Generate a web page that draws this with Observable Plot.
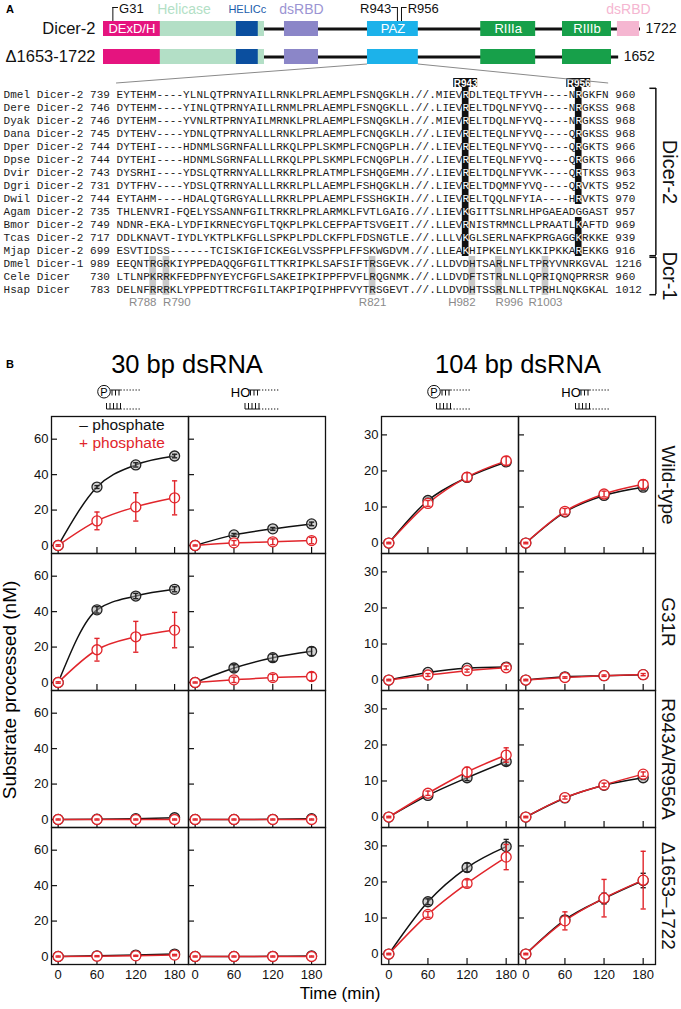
<!DOCTYPE html>
<html><head><meta charset="utf-8">
<script src="https://cdn.jsdelivr.net/npm/d3@7"></script>
<script src="https://cdn.jsdelivr.net/npm/@observablehq/plot@0.6"></script>
<style>
html,body{margin:0;padding:0;background:#fff;}
#root{position:relative;width:681px;height:1009px;overflow:hidden;font-family:"Liberation Sans",Arial,Helvetica,sans-serif;color:#111;}
</style></head><body><div id="root"></div>
<script>
// ---------------- Panel A data ----------------
const proteins = ["Dicer-2", "Δ1653-1722"];
const proteinLength = [1722, 1652];
const domainNames = ["Helicase", "DExD/H", "HELICc", "dsRBD", "PAZ", "RIIIa", "RIIIb", "dsRBD"];
const domainStart = [1, 1, 427, 581, 847, 1210, 1472, 1648];
const domainEnd = [517, 183, 497, 690, 1010, 1386, 1629, 1719];
const domainLabelInside = [false, true, false, false, true, true, true, false];
const siteResidues = [31, 943, 956];
const siteLabels = ["G31", "R943", "R956"];

const alignNames = ["Dmel Dicer-2","Dere Dicer-2","Dyak Dicer-2","Dana Dicer-2","Dper Dicer-2","Dpse Dicer-2","Dvir Dicer-2","Dgri Dicer-2","Dwil Dicer-2","Agam Dicer-2","Bmor Dicer-2","Tcas Dicer-2","Mjap Dicer-2","Dmel Dicer-1","Cele Dicer","Hsap Dicer"];
const alignStart = [739,746,746,745,744,744,743,731,744,735,749,717,699,989,730,783];
const alignSeqA = [
 "EYTEHM----YLNLQTPRNYAILLRNKLPRLAEMPLFSNQGKLH",
 "DYTEHM----YINLQTPRNYAILLRNMLPRLAEMPLFSNQGKLL",
 "DYTEHM----YVNLRTPRNYAILMRNKLPRLAEMPLFSNQGKLH",
 "DYTEHV----YDNLQTPRNYALLLRNKLPRLAEMPLFCNQGKLH",
 "DYTEHI----HDNMLSGRNFALLLRKQLPPLSKMPLFCNQGPLH",
 "DYTEHI----HDNMLSGRNFALLLRKQLPPLSKMPLFCNQGPLH",
 "DYSRHI----YDSLQTRRNYALLLRKRLPRLATMPLFSHQGEMH",
 "DYTFHV----YDSLQTRRNYALLLRKRLPLLAEMPLFSHQGKLH",
 "EYTAHM----HDALQTGRGYALLLRKRLPPLAEMPLFSSHGKIH",
 "THLENVRI-FQELYSSANNFGILTRKRLPRLARMKLFVTLGAIG",
 "NDNR-EKA-LYDFIKRNECYGFLTQKPLPKLCEFPAFTSVGEIT",
 "DDLKNAVT-IYDLYKTPLKFGLLSPKPLPDLCKFPLFDSNGTLE",
 "ESVTIDSS------TCISKIGFICKEGLVSSPFPLFFSKWGDVM",
 "EEQNTRGRKIYPPEDAQQGFGILTTKRIPKLSAFSIFTRSGEVK",
 "LTLNPKRRKFEDPFNYEYCFGFLSAKEIPKIPPFPVFLRQGNMK",
 "DELNFRRRKLYPPEDTTRCFGILTAKPIPQIPHPFVYTRSGEVT"];
const alignSeqB = [
 "MIEVRDLTEQLTFYVH----NRGKFN",
 "LIEVRELTDQLNFYVQ----NRGKSS",
 "MIEVRELTDQLNFYVQ----NRGKSS",
 "LIEVRELTEQLNFYVQ----QRGKSS",
 "LIEVRELTEQLNFYVQ----QRGKTS",
 "LIEVRELTEQLNFYVQ----QRGKTS",
 "LIEVRELTDQLNFYVK----QRTKSS",
 "LIEVRELTDQMNFYVQ----QRVKTS",
 "LIEVRELTQQLNFYIA----HRVKTS",
 "LIEVKGITTSLNRLHPGAEADGGAST",
 "LLEVRNISTRMNCLLPRAATLKAFTD",
 "LLLVKGLSERLNAFKPRGAGGKRKKE",
 "LLEAKHIPKELNYLKKIPKKAREKKG",
 "LLDVDHTSARLNFLTPRYVNRKGVAL",
 "LLDVDFTSTRLNLLQPRIQNQPRRSR",
 "LLDVDHTSSRLNLLTPRHLNQKGKAL"];
const alignEnd = [960,968,968,968,966,966,963,952,970,957,969,939,916,1216,960,1012];
const markedLabels = ["R943", "R956"];
const markedCols = [69, 86];
const markedRows = [[0,1,2,3,4,5,6,7,8,9,10,11,12], [0,1,2,3,4,5,6,7,8,10,11,12]];
const conservedLabels = ["R788", "R790", "R821", "H982", "R996", "R1003"];
const conservedCols = [22, 24, 55, 70, 74, 81];
const conservedRows = [13, 14, 15];
const groupNames = ["Dicer-2", "Dcr-1"];
const groupFirstRow = [0, 13];
const groupLastRow = [12, 15];
const groupMidRow = [6, 14];

// ---------------- Panel B data ----------------
const times = [0, 60, 120, 180];
const genotypes = ["Wild-type", "G31R", "R943A/R956A", "Δ1653–1722"];
const substrateEnds = ["P", "HO"];
// rows follow genotypes, columns follow times (nM)
const bp30MinusP     = [[0, 33, 45.5, 50.5], [0, 41, 48.8, 52.6], [0, 0.2, 0.5, 1.0], [0, 0.4, 0.8, 1.4]];
const bp30MinusPErr  = [[0.3, 0.8, 1.2, 1.0], [0.3, 1.8, 1.5, 1.4], [0.3, 0.3, 0.3, 0.4], [0.3, 0.3, 0.4, 0.5]];
const bp30PlusP      = [[0, 13.9, 21.8, 26.9], [0, 18.5, 25.8, 29.6], [0, 0, 0, 0], [0, 0.2, 0.4, 0.8]];
const bp30PlusPErr   = [[0.4, 5, 8, 9.6], [0.4, 6.4, 8.7, 10], [0.3, 0.3, 0.3, 0.3], [0.3, 0.3, 0.3, 0.4]];
const bp30MinusHO    = [[0, 6.0, 9.4, 12.2], [0, 8.2, 14, 17.6], [0, 0, 0.1, 0.5], [0, 0, 0.1, 0.3]];
const bp30MinusHOErr = [[0.3, 0.8, 0.8, 1.0], [0.3, 1.8, 2.0, 2.4], [0.3, 0.3, 0.3, 0.3], [0.3, 0.3, 0.3, 0.3]];
const bp30PlusHO     = [[0, 1.5, 2.1, 2.8], [0, 1.5, 2.8, 3.4], [0, 0, 0, 0], [0, 0, 0, 0]];
const bp30PlusHOErr  = [[0.3, 1.3, 1.6, 1.8], [0.3, 1.5, 1.8, 2.3], [0.3, 0.3, 0.3, 0.3], [0.3, 0.3, 0.3, 0.3]];

const bp104MinusP     = [[0, 11.8, 18.2, 22.5], [0, 2.1, 3.3, 3.6], [0, 6.0, 10.9, 15.4], [0, 14.5, 24.0, 29.8]];
const bp104MinusPErr  = [[0.2, 0.6, 0.8, 0.8], [0.2, 0.3, 0.4, 0.4], [0.2, 0.5, 0.8, 1.0], [0.2, 0.8, 1.2, 2.0]];
const bp104PlusP      = [[0, 11.0, 18.3, 22.8], [0, 1.4, 2.6, 3.4], [0, 6.6, 12.5, 17.2], [0, 11.0, 19.6, 26.9]];
const bp104PlusPErr   = [[0.2, 0.8, 1.2, 1.2], [0.2, 0.4, 0.4, 0.5], [0.2, 0.6, 1.3, 2.0], [0.2, 0.8, 1.0, 3.5]];
const bp104MinusHO    = [[0, 8.6, 13.2, 15.5], [0, 0.9, 1.2, 1.5], [0, 5.3, 8.8, 10.9], [0, 9.5, 15.4, 20.4]];
const bp104MinusHOErr = [[0.2, 0.5, 0.6, 0.8], [0.2, 0.2, 0.2, 0.3], [0.2, 0.3, 0.4, 0.5], [0.2, 1.0, 1.5, 2.0]];
const bp104PlusHO     = [[0, 8.8, 13.6, 16.3], [0, 0.7, 1.2, 1.5], [0, 5.4, 8.9, 11.9], [0, 9.2, 15.5, 20.5]];
const bp104PlusHOErr  = [[0.2, 0.8, 0.8, 1.2], [0.2, 0.2, 0.2, 0.3], [0.2, 0.4, 0.5, 0.6], [0.2, 2.5, 5.2, 8.0]];

// ---------------- styles ----------------
const FONT = '"Liberation Sans", Arial, Helvetica, sans-serif';
const MONO = '"Liberation Mono", "DejaVu Sans Mono", monospace';
const RED = "#e1252b";
const domainColor = ["#b3dfc6", "#e5147f", "#0b4f9f", "#8b86c8", "#1cb2ea", "#17a04a", "#17a04a", "#f5b6d1"];
const domainLabelColor = ["#b3dfc6", "#ffffff", "#1a5cab", "#9b94d3", "#ffffff", "#ffffff", "#ffffff", "#f5b6d1"];
const conservedAnchor = ["end", "start", "middle", "end", "start", "middle"];

const root = document.getElementById("root");
function place(el, left, top) {
  el.style.position = "absolute"; el.style.left = left + "px"; el.style.top = top + "px";
  root.appendChild(el); return el;
}

// ---------------- Panel A: domain diagram ----------------
const backbone = proteins.map((name, i) => ({name, start: 1, len: proteinLength[i]}));
const domains = proteins.flatMap((p, i) => domainNames.map((n, j) => ({
  protein: p, name: n, start: domainStart[j], end: domainEnd[j],
  color: domainColor[j], labelColor: domainLabelColor[j], inside: domainLabelInside[j]
})).filter(d => d.end <= proteinLength[i]));
const firstRow = domains.filter(d => d.protein === proteins[0]);
const sites = siteResidues.map((res, i) => ({res, label: siteLabels[i], dir: i === 1 ? -1 : 1}));

const diag = Plot.plot({
  width: 681, height: 75, margin: 0,
  x: {domain: [1, 1722], range: [103, 640], axis: null},
  y: {type: "band", domain: proteins, range: [14.5, 70.5], paddingInner: 0.464, paddingOuter: 0.232, axis: null},
  color: {type: "identity"},
  style: {fontFamily: FONT, overflow: "visible", background: "transparent"},
  marks: [
    Plot.ruleY(backbone, {y: "name", x1: "start", x2: "len", stroke: "#111", strokeWidth: 3}),
    Plot.barX(domains, {y: "protein", x1: "start", x2: "end", fill: "color"}),
    Plot.text(firstRow.filter(d => d.inside), {y: "protein", x: d => (d.start + d.end) / 2, text: "name", fill: "labelColor", fontSize: 13}),
    Plot.text(firstRow.filter(d => !d.inside), {y: "protein", x: d => (d.start + d.end) / 2, text: "name", fill: "labelColor", fontSize: d => d.name === "HELICc" ? 11 : 14, dy: -19.5}),
    Plot.text(backbone, {y: "name", x: "start", text: "name", textAnchor: "end", dx: -8, fontSize: 16.5, fill: "#111"}),
    Plot.text(backbone, {y: "name", x: "len", text: d => String(d.len), textAnchor: "start", dx: 5, fontSize: 14, fill: "#111"}),
    Plot.tickX(sites, {x: "res", y: () => proteins[0], insetTop: -14, insetBottom: 15, stroke: "#111", strokeWidth: 1}),
    Plot.ruleY(sites, {y: () => proteins[0], x1: "res", x2: d => d.res + d.dir * 18, dy: -21.5, stroke: "#111", strokeWidth: 1}),
    Plot.text(sites.filter(d => d.dir > 0), {x: d => d.res + 20, y: () => proteins[0], text: "label", textAnchor: "start", dy: -20.5, fontSize: 13, fill: "#111"}),
    Plot.text(sites.filter(d => d.dir < 0), {x: d => d.res - 20, y: () => proteins[0], text: "label", textAnchor: "end", dy: -20.5, fontSize: 13, fill: "#111"})
  ]
});
place(diag, 0, 0);

// ---------------- Panel A: alignment ----------------
const alignRows = alignNames.map((n, i) => n.padEnd(13) + String(alignStart[i]).padEnd(4) + alignSeqA[i] + ".//." + alignSeqB[i] + " " + alignEnd[i]);
const blackCells = markedCols.flatMap((col, k) => markedRows[k].map(row => ({row, col})));
const isBlack = new Set(blackCells.map(d => d.row + ":" + d.col));
const grayCells = conservedCols.flatMap(col => conservedRows.map(row => ({row, col})));
const chars = alignRows.flatMap((s, row) => Array.from(s, (ch, col) => ({row, col, ch}))).filter(d => d.ch !== " ");
const marked = markedCols.map((col, k) => ({col, label: markedLabels[k]}));
const conserved = conservedCols.map((col, k) => ({col, label: conservedLabels[k], anchor: conservedAnchor[k]}));
const groups = groupNames.map((name, k) => ({name, from: groupFirstRow[k], to: groupLastRow[k], mid: groupMidRow[k]}));
const anchorShift = {start: -0.5, middle: 0, end: 0.5};

const ALIGN_TOP = 60;
const align = Plot.plot({
  width: 681, height: 262, margin: 0,
  x: {type: "linear", domain: [0, 95], range: [3 + 0.5 * 6.65, 3 + 95.5 * 6.65], axis: null},
  y: {type: "band", domain: d3.range(-1, 17), range: [70.2 - ALIGN_TOP, 311.4 - ALIGN_TOP], padding: 0, axis: null},
  style: {fontFamily: FONT, overflow: "visible", background: "transparent"},
  marks: [
    Plot.barX(grayCells, {x1: d => d.col - 0.5, x2: d => d.col + 0.5, y: "row", fill: "#c9c9c9"}),
    Plot.barX(blackCells, {x1: d => d.col - 0.5, x2: d => d.col + 0.5, y: "row", fill: "#111"}),
    Plot.barX(marked, {x1: d => d.col - 1.8, x2: d => d.col + 1.8, y: () => -1, insetTop: 4, fill: "#111"}),
    Plot.text(marked, {x: "col", y: () => -1, text: "label", fill: "white", fontSize: 10, fontWeight: "bold", dy: 2.3}),
    Plot.text(chars.filter(d => !isBlack.has(d.row + ":" + d.col)), {x: "col", y: "row", text: "ch", fontFamily: MONO, fontSize: 11, fill: "#1a1a1a"}),
    Plot.text(chars.filter(d => isBlack.has(d.row + ":" + d.col)), {x: "col", y: "row", text: "ch", fontFamily: MONO, fontSize: 11, fill: "white"}),
    ...["start", "middle", "end"].map(a => Plot.text(conserved.filter(d => d.anchor === a), {x: d => d.col + anchorShift[a], y: () => 16, text: "label", textAnchor: a, fill: "#8a8a8a", fontSize: 11.5})),
    Plot.ruleX(groups, {x: 97.6, y1: "from", y2: "to", insetTop: 1, insetBottom: 1, stroke: "#111", strokeWidth: 1.5}),
    Plot.ruleY(groups, {y: "from", x1: 96.7, x2: 97.7, dy: -5.7, stroke: "#111", strokeWidth: 1.5}),
    Plot.ruleY(groups, {y: "to", x1: 96.7, x2: 97.7, dy: 5.7, stroke: "#111", strokeWidth: 1.5}),
    Plot.text(groups, {x: 99.6, y: "mid", text: "name", rotate: 90, fontSize: 20, fill: "#111"})
  ]
});
place(align, 0, ALIGN_TOP);

// ---------------- Panel B ----------------
function pts(values, errors, end, series) {
  return genotypes.flatMap((g, gi) => times.map((t, ti) => ({genotype: g, end, series, t, v: values[gi][ti], e: errors[gi][ti]})));
}
const capSymbol = {draw(context, size) { const w = Math.sqrt(size / Math.PI); context.moveTo(-w, 0); context.lineTo(w, 0); }};

function kinetics({minus, plus, yDomain, yTicks, xDomain, width, marginLeft, marginRight, rowLabels}) {
  const f = {fx: "end", fy: "genotype"};
  const series = (data, color, fill) => [
    Plot.dot(data, {x: "t", y: "v", ...f, r: 5, stroke: color, strokeWidth: 1.3, fill, fillOpacity: fill === "white" ? 1 : 0.55}),
    Plot.ruleX(data, {x: "t", y1: d => d.v - d.e, y2: d => d.v + d.e, ...f, stroke: color, strokeWidth: 1.4}),
    Plot.dot(data, {x: "t", y: d => d.v + d.e, ...f, symbol: capSymbol, r: 2.6, stroke: color, strokeWidth: 1.4}),
    Plot.dot(data, {x: "t", y: d => d.v - d.e, ...f, symbol: capSymbol, r: 2.6, stroke: color, strokeWidth: 1.4})
  ];
  const marks = [
    Plot.axisY({ticks: yTicks, tickSize: 6, dx: 6, fill: "none", facetAnchor: null, label: null, strokeWidth: 1.2}),
    Plot.axisY({ticks: yTicks, tickSize: 0, tickPadding: 3, label: null, fontSize: 13, fill: "#111"}),
    Plot.axisX({ticks: times, tickSize: 6, dy: -6, fill: "none", facetAnchor: null, label: null, strokeWidth: 1.2}),
    Plot.axisX({ticks: times, tickSize: 0, tickPadding: 5, label: null, fontSize: 13, fill: "#111"}),
    Plot.line(minus, {x: "t", y: "v", ...f, stroke: "#111", strokeWidth: 1.5, curve: "monotone-x"}),
    Plot.line(plus, {x: "t", y: "v", ...f, stroke: RED, strokeWidth: 1.5, curve: "monotone-x"}),
    ...series(minus, "#222", "#b0b0b0"),
    ...series(plus, RED, "white"),
    Plot.frame({strokeWidth: 1.3, stroke: "#111"})
  ];
  if (rowLabels) marks.push(Plot.axisFy({anchor: "right", label: null, tickSize: 0, tickRotate: 90, textAnchor: "middle", fontSize: 19, dx: 11, fill: "#111"}));
  return Plot.plot({
    width, height: 589, marginTop: 5, marginBottom: 35, marginLeft, marginRight,
    x: {domain: xDomain, axis: null},
    y: {domain: yDomain, axis: null},
    fx: {domain: substrateEnds, padding: 0, axis: null},
    fy: {domain: genotypes, padding: 0, axis: null},
    style: {fontFamily: FONT, fontSize: "13px", overflow: "visible", background: "transparent", color: "#111"},
    marks
  });
}

const minus30 = [...pts(bp30MinusP, bp30MinusPErr, "P", "minus"), ...pts(bp30MinusHO, bp30MinusHOErr, "HO", "minus")];
const plus30 = [...pts(bp30PlusP, bp30PlusPErr, "P", "plus"), ...pts(bp30PlusHO, bp30PlusHOErr, "HO", "plus")];
const minus104 = [...pts(bp104MinusP, bp104MinusPErr, "P", "minus"), ...pts(bp104MinusHO, bp104MinusHOErr, "HO", "minus")];
const plus104 = [...pts(bp104PlusP, bp104PlusPErr, "P", "plus"), ...pts(bp104PlusHO, bp104PlusHOErr, "HO", "plus")];

place(kinetics({minus: minus30, plus: plus30, yDomain: [-4.5, 72.8], yTicks: [0, 20, 40, 60], xDomain: [-10.3, 201.5], width: 340, marginLeft: 50, marginRight: 15, rowLabels: false}), 0, 410);
place(kinetics({minus: minus104, plus: plus104, yDomain: [-2.9, 35.1], yTicks: [0, 10, 20, 30], xDomain: [-11.2, 198.9], width: 341, marginLeft: 41, marginRight: 26, rowLabels: true}), 340, 410);

// ---------------- overlay: panel letters, titles, substrate icons, legend, axis titles, connectors ----------------
const ov = d3.create("svg").attr("width", 681).attr("height", 1009)
  .style("position", "absolute").style("left", "0px").style("top", "0px")
  .style("pointer-events", "none").style("font-family", FONT);

// connectors from PAZ (Δ row) to the alignment block
const dx = diag.scale("x"), dy = diag.scale("y"), ax = align.scale("x"), ay = align.scale("y");
const pazBottom = dy.apply(proteins[1]) + dy.bandwidth;
const alignTopY = ALIGN_TOP + ay.apply(0) - 4;
[[domainStart[4], 16.5], [domainEnd[4], 90.5]].forEach(([res, col]) => {
  ov.append("line").attr("x1", dx.apply(res)).attr("y1", pazBottom).attr("x2", ax.apply(col)).attr("y2", alignTopY)
    .attr("stroke", "#8a8a8a").attr("stroke-width", 1);
});

ov.append("text").attr("x", 6).attr("y", 13).attr("font-size", 11).attr("font-weight", "bold").text("A");
ov.append("text").attr("x", 6).attr("y", 368).attr("font-size", 11).attr("font-weight", "bold").text("B");
ov.append("text").attr("x", 187).attr("y", 373).attr("font-size", 25.5).attr("text-anchor", "middle").text("30 bp dsRNA");
ov.append("text").attr("x", 518).attr("y", 373).attr("font-size", 25.5).attr("text-anchor", "middle").text("104 bp dsRNA");

function endIcon(kind, c) {
  const g = ov.append("g").attr("stroke", "#111").attr("fill", "none");
  const yT = 390, yB = 409;
  let s;
  if (kind === "P") {
    g.append("circle").attr("cx", c).attr("cy", 391.7).attr("r", 6.3).attr("stroke-width", 1);
    ov.append("text").attr("x", c).attr("y", 395.6).attr("text-anchor", "middle").attr("font-size", 11).text("P");
    s = c + 6.5;
  } else {
    ov.append("text").attr("x", c).attr("y", 396.5).attr("text-anchor", "middle").attr("font-size", 13).text("HO");
    s = c + 8.5;
  }
  g.append("line").attr("x1", s).attr("x2", s + 10).attr("y1", yT).attr("y2", yT).attr("stroke-width", 1);
  [1.5, 5, 8.5].forEach(o => g.append("line").attr("x1", s + o).attr("x2", s + o).attr("y1", yT).attr("y2", yT + 5.5).attr("stroke-width", 1));
  g.append("line").attr("x1", s + 10).attr("x2", s + 30).attr("y1", yT).attr("y2", yT).attr("stroke-width", 1.2).attr("stroke-dasharray", "1.3,1.7");
  g.append("line").attr("x1", s - 4).attr("x2", s + 10).attr("y1", yB).attr("y2", yB).attr("stroke-width", 1);
  [-4, -0.5, 3, 6.5, 10].forEach(o => g.append("line").attr("x1", s + o).attr("x2", s + o).attr("y1", yB).attr("y2", yB - 6).attr("stroke-width", 1));
  g.append("line").attr("x1", s + 10).attr("x2", s + 30).attr("y1", yB).attr("y2", yB).attr("stroke-width", 1.2).attr("stroke-dasharray", "1.3,1.7");
}
endIcon("P", 104); endIcon("HO", 240.5); endIcon("P", 434); endIcon("HO", 571);

ov.append("text").attr("x", 122).attr("y", 430).attr("font-size", 15.5).attr("text-anchor", "middle").attr("fill", "#111").text("– phosphate");
ov.append("text").attr("x", 122).attr("y", 448).attr("font-size", 15.5).attr("text-anchor", "middle").attr("fill", RED).text("+ phosphate");

ov.append("text").attr("transform", "translate(16,690) rotate(-90)").attr("font-size", 19).attr("text-anchor", "middle").text("Substrate processed (nM)");
ov.append("text").attr("x", 340).attr("y", 999).attr("font-size", 17).attr("text-anchor", "middle").text("Time (min)");

root.appendChild(ov.node());
</script></body></html>
